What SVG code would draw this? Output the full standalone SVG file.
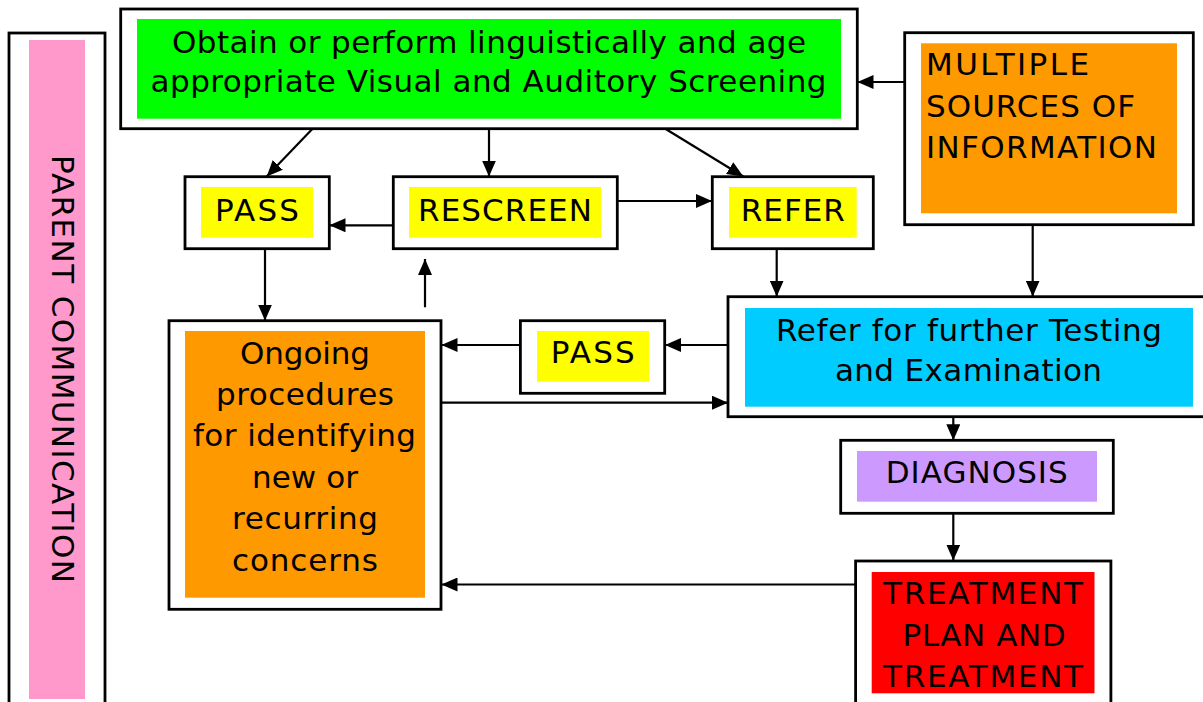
<svg xmlns="http://www.w3.org/2000/svg" width="1203" height="702" viewBox="0 0 1203 702">
<style>
.box{fill:#fff;stroke:#000;stroke-width:2.8}
.t{font-family:"DejaVu Sans","Verdana",sans-serif;font-size:31px;fill:#000}
.c{text-anchor:middle}
.con line{stroke:#000;stroke-width:2.2;marker-end:url(#ah)}
</style>
<defs>
<marker id="ah" markerUnits="userSpaceOnUse" markerWidth="16" markerHeight="14" refX="16" refY="7" orient="auto">
<path d="M0,0 L16,7 L0,14 z" fill="#000"/>
</marker>
</defs>
<rect width="1203" height="702" fill="#fff"/>

<g id="parent">
<rect class="box" x="9" y="33" width="96" height="690"/>
<rect x="29" y="40" width="56" height="659" fill="#FF99CC"/>
<text class="t c" transform="translate(51.7,369) rotate(90)" textLength="428">PARENT COMMUNICATION</text>
</g>

<g id="screening">
<rect class="box" x="120.7" y="9" width="736.6" height="119.7"/>
<rect x="137" y="19" width="704" height="99.7" fill="#00FF00"/>
<text class="t c" x="489" y="53" textLength="634">Obtain or perform linguistically and age</text>
<text class="t c" x="488.5" y="92.3" textLength="676">appropriate Visual and Auditory Screening</text>
</g>

<g id="sources">
<rect class="box" x="904.7" y="32.7" width="288.6" height="192"/>
<rect x="921" y="43.3" width="256" height="170" fill="#FF9900"/>
<text class="t" x="926" y="75" textLength="163">MULTIPLE</text>
<text class="t" x="926" y="116.7" textLength="209">SOURCES OF</text>
<text class="t" x="926" y="158.3" textLength="231">INFORMATION</text>
</g>

<g id="pass1">
<rect class="box" x="185" y="176.7" width="144.3" height="72"/>
<rect x="201" y="187" width="112" height="50.7" fill="#FFFF00"/>
<text class="t c" x="257" y="220.7" textLength="84">PASS</text>
</g>

<g id="rescreen">
<rect class="box" x="393.3" y="176.7" width="224" height="72"/>
<rect x="409" y="187" width="192" height="50.7" fill="#FFFF00"/>
<text class="t c" x="505" y="220.5" textLength="174">RESCREEN</text>
</g>

<g id="refer">
<rect class="box" x="712.3" y="176.7" width="161" height="72"/>
<rect x="729" y="187" width="127.7" height="50.7" fill="#FFFF00"/>
<text class="t c" x="792.8" y="220.5" textLength="104">REFER</text>
</g>

<g id="ongoing">
<rect class="box" x="169" y="320.7" width="272" height="288.6"/>
<rect x="185" y="331" width="240" height="266.7" fill="#FF9900"/>
<text class="t c" x="305" y="363.5" textLength="130">Ongoing</text>
<text class="t c" x="305" y="404.9" textLength="178">procedures</text>
<text class="t c" x="304.5" y="446.3" textLength="223">for identifying</text>
<text class="t c" x="305" y="487.7" textLength="106">new or</text>
<text class="t c" x="305" y="529.1" textLength="146">recurring</text>
<text class="t c" x="305" y="570.5" textLength="146">concerns</text>
</g>

<g id="pass2">
<rect class="box" x="520.4" y="320.7" width="144.3" height="72.6"/>
<rect x="537" y="331" width="112" height="50.7" fill="#FFFF00"/>
<text class="t c" x="592.8" y="363.3" textLength="84">PASS</text>
</g>

<g id="testing">
<rect class="box" x="728" y="296.7" width="480" height="120"/>
<rect x="745" y="308" width="448" height="98.7" fill="#00CCFF"/>
<text class="t c" x="969" y="340.7" textLength="386">Refer for further Testing</text>
<text class="t c" x="968.5" y="381" textLength="267">and Examination</text>
</g>

<g id="diagnosis">
<rect class="box" x="840.7" y="440.3" width="272.6" height="73"/>
<rect x="857" y="451" width="240" height="50.7" fill="#CC99FF"/>
<text class="t c" x="976.7" y="483.3" textLength="182">DIAGNOSIS</text>
</g>

<g id="treatment">
<rect class="box" x="855.6" y="561" width="255.3" height="160"/>
<rect x="871.7" y="572" width="222.8" height="121.3" fill="#FF0000"/>
<text class="t c" x="983" y="604" textLength="200">TREATMENT</text>
<text class="t c" x="984" y="645.7" textLength="163">PLAN AND</text>
<text class="t c" x="983" y="686.7" textLength="200">TREATMENT</text>
</g>

<g id="connectors" class="con">
<line x1="312.3" y1="129" x2="266.7" y2="176.5"/>
<line x1="489" y1="129" x2="489" y2="176.5"/>
<line x1="665.7" y1="129" x2="743.3" y2="176.5"/>
<line x1="905" y1="82" x2="857.5" y2="82"/>
<line x1="393" y1="225.3" x2="329.5" y2="225.3"/>
<line x1="617" y1="201" x2="712" y2="201"/>
<line x1="265" y1="248.7" x2="265" y2="320.5"/>
<line x1="425" y1="307.3" x2="425" y2="259"/>
<line x1="776.7" y1="248.7" x2="776.7" y2="296.5"/>
<line x1="1032.7" y1="224.7" x2="1032.7" y2="296.5"/>
<line x1="728" y1="345" x2="665" y2="345"/>
<line x1="520" y1="345" x2="441.5" y2="345"/>
<line x1="441" y1="402.7" x2="728" y2="402.7"/>
<line x1="953.3" y1="416.7" x2="953.3" y2="440.3"/>
<line x1="953.3" y1="513.3" x2="953.3" y2="560.5"/>
<line x1="855.6" y1="584.5" x2="441.5" y2="584.5"/>
</g>
</svg>
